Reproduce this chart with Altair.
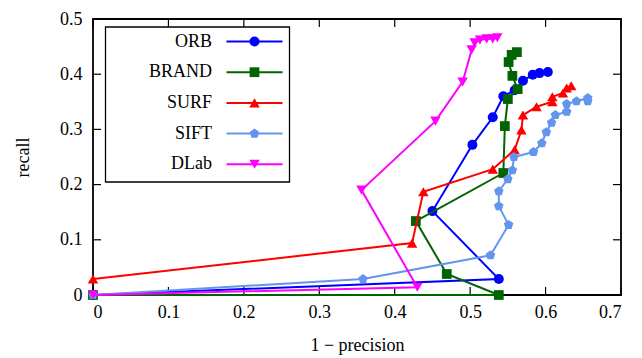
import altair as alt
import pandas as pd

# ---- data ----
series_names = ["ORB", "BRAND", "SURF", "SIFT", "DLab"]
series_colors = ["#0000ff", "#006400", "#ff0000", "#6495ed", "#ff00ff"]

orb_x = [0, 0.538, 0.450, 0.503, 0.530, 0.544, 0.559, 0.570, 0.583, 0.592, 0.603]
orb_y = [0, 0.029, 0.152, 0.272, 0.322, 0.360, 0.371, 0.388, 0.399, 0.402, 0.404]

brand_x = [0, 0.538, 0.469, 0.428, 0.544, 0.546, 0.550, 0.563, 0.556, 0.551, 0.555, 0.562]
brand_y = [0, 0.0, 0.038, 0.134, 0.221, 0.306, 0.355, 0.373, 0.397, 0.422, 0.435, 0.440]

surf_x = [0, 0.423, 0.438, 0.530, 0.559, 0.568, 0.570, 0.588, 0.609, 0.609, 0.623, 0.628, 0.634]
surf_y = [0.029, 0.094, 0.187, 0.228, 0.263, 0.299, 0.326, 0.341, 0.350, 0.359, 0.366, 0.375, 0.379]

sift_x = [0, 0.358, 0.527, 0.551, 0.538, 0.538, 0.550, 0.556, 0.558, 0.584, 0.595, 0.601,
          0.608, 0.613, 0.628, 0.628, 0.641, 0.656, 0.656]
sift_y = [0, 0.029, 0.072, 0.127, 0.161, 0.188, 0.210, 0.226, 0.250, 0.259, 0.275, 0.295,
          0.312, 0.326, 0.332, 0.346, 0.351, 0.357, 0.351]

dlab_x = [0, 0.430, 0.356, 0.454, 0.490, 0.502, 0.506, 0.513, 0.522, 0.530, 0.536]
dlab_y = [0, 0.014, 0.190, 0.315, 0.386, 0.444, 0.457, 0.462, 0.464, 0.464, 0.466]

x_ticks = [0, 0.1, 0.2, 0.3, 0.4, 0.5, 0.6, 0.7]
y_ticks = [0, 0.1, 0.2, 0.3, 0.4, 0.5]

series_x = [orb_x, brand_x, surf_x, sift_x, dlab_x]
series_y = [orb_y, brand_y, surf_y, sift_y, dlab_y]

PENTAGON = "M0,-1L0.951,-0.309L0.588,0.809L-0.588,0.809L-0.951,-0.309Z"
shapes = ["circle", "square", "triangle-up", PENTAGON, "triangle-down"]
sizes = [100, 95, 110, 100, 110]

W, H = 528, 276
FONT = "Liberation Serif"
FS = 18

xs = alt.Scale(domain=[0, 0.7], nice=False, zero=False)
ys = alt.Scale(domain=[0, 0.5], nice=False, zero=False)

x_axis = alt.Axis(values=x_ticks, format="~g", grid=False, ticks=False, domain=False,
                  labelPadding=8, labelFont=FONT, labelFontSize=FS, labelColor="black",
                  title="1 − precision", titleFont=FONT, titleFontSize=FS,
                  titleFontWeight="normal", titleColor="black",
                  titleX=W / 2, titleY=50, titleBaseline="middle", titleAlign="center")
y_axis = alt.Axis(values=y_ticks, format="~g", grid=False, ticks=False, domain=False,
                  labelPadding=11, labelFont=FONT, labelFontSize=FS, labelColor="black",
                  title="recall", titleFont=FONT, titleFontSize=FS,
                  titleFontWeight="normal", titleColor="black", titleAngle=-90,
                  titleX=-70, titleY=H / 2, titleBaseline="middle", titleAlign="center")

layers = []

# inward ticks on all four sides
xt = pd.DataFrame({"v": x_ticks})
yt = pd.DataFrame({"v": y_ticks})
tick_style = dict(color="black", strokeWidth=1.2)
layers.append(alt.Chart(xt).mark_rule(**tick_style).encode(
    x=alt.X("v:Q", scale=xs, axis=x_axis), y=alt.value(H), y2=alt.value(H - 8)))
layers.append(alt.Chart(xt).mark_rule(**tick_style).encode(
    x=alt.X("v:Q", scale=xs), y=alt.value(0), y2=alt.value(8)))
layers.append(alt.Chart(yt).mark_rule(**tick_style).encode(
    y=alt.Y("v:Q", scale=ys, axis=y_axis), x=alt.value(0), x2=alt.value(8)))
layers.append(alt.Chart(yt).mark_rule(**tick_style).encode(
    y=alt.Y("v:Q", scale=ys), x=alt.value(W), x2=alt.value(W - 8)))

# data series
for name, col, sx, sy, shp, sz in zip(series_names, series_colors, series_x, series_y, shapes, sizes):
    df = pd.DataFrame({"x": sx, "y": sy, "i": list(range(len(sx)))})
    layers.append(alt.Chart(df).mark_line(color=col, strokeWidth=2, clip=False).encode(
        x=alt.X("x:Q", scale=xs), y=alt.Y("y:Q", scale=ys), order="i:Q"))
    layers.append(alt.Chart(df).mark_point(color=col, fill=col, filled=True, opacity=1,
                                            shape=shp, size=sz, clip=False).encode(
        x=alt.X("x:Q", scale=xs), y=alt.Y("y:Q", scale=ys)))

# legend box
LX0, LX1, LY0, LY1 = 12.5, 196.5, 8, 163
layers.append(alt.Chart(pd.DataFrame({"a": [0]})).mark_rect(
    fill="white", stroke="black", strokeWidth=1.3).encode(
    x=alt.value(LX0), x2=alt.value(LX1), y=alt.value(LY0), y2=alt.value(LY1)))
leg_df = pd.DataFrame({"a": [0]})
for k, (name, col, shp, sz) in enumerate(zip(series_names, series_colors, shapes, sizes)):
    ry = 22.5 + 30.7 * k
    layers.append(alt.Chart(leg_df).mark_text(
        text=name, font=FONT, fontSize=FS, align="right", baseline="middle", color="black").encode(
        x=alt.value(119), y=alt.value(ry)))
    layers.append(alt.Chart(leg_df).mark_rule(color=col, strokeWidth=2).encode(
        x=alt.value(133.5), x2=alt.value(189.5), y=alt.value(ry)))
    layers.append(alt.Chart(leg_df).mark_point(color=col, fill=col, filled=True, opacity=1,
                                               shape=shp, size=sz).encode(
        x=alt.value(161.5), y=alt.value(ry)))

chart = alt.layer(*layers).properties(
    width=W, height=H,
    autosize=alt.AutoSizeParams(type="none"),
    padding={"left": 85, "top": 11, "right": 12, "bottom": 60},
    background="white",
).configure_view(stroke="black", strokeWidth=1.8)

chart.save("out.html", embed_options={"renderer": "svg", "actions": False})
